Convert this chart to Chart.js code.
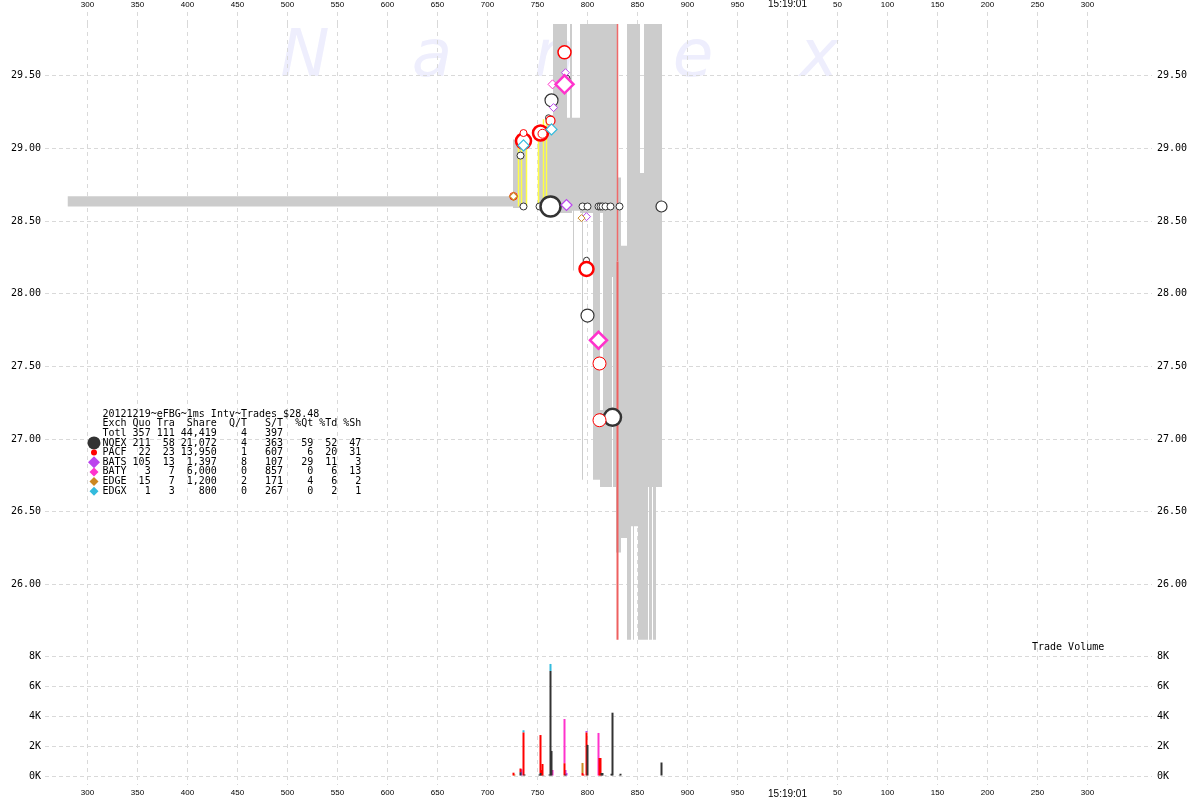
<!DOCTYPE html>
<html>
<head>
<meta charset="utf-8">
<script src="https://cdn.jsdelivr.net/npm/chart.js@4.4.1/dist/chart.umd.min.js"></script>
<style>
html,body{margin:0;padding:0;background:#ffffff;}
#wrap{position:relative;width:1200px;height:800px;}
canvas{display:block;}
</style>
</head>
<body>
<div id="wrap"><canvas id="chart" width="1200" height="800"></canvas></div>
<script>
// ---------- tick values / labels ----------
const xTickValues = [300,350,400,450,500,550,600,650,700,750,800,850,900,950,1000,1050,1100,1150,1200,1250,1300];
const xTickLabels = ['300','350','400','450','500','550','600','650','700','750','800','850','900','950','15:19:01','50','100','150','200','250','300'];
const priceTicks = [26.00,26.50,27.00,27.50,28.00,28.50,29.00,29.50];
const volTicks = [0,2000,4000,6000,8000];
const volTickLabels = ['0K','2K','4K','6K','8K'];

// ---------- quote spread before the burst ----------
const bandMs = [280, 726];
const bandHi = [28.67, 28.67];
const bandLo = 28.60;

// ---------- 1 ms quote ranges (NBBO spread) ----------
const quoteMs = [
  726,727,728,729,730,
  731,732,733,734,735,736,737,738,739,
  751,752,753,754,755,756,757,758,759,
  760,761,762,763,764,765,
  766,767,768,769,770,771,772,773,774,775,776,777,778,779,
  780,781,782,783,784,
  785,786,787,788,789,790,791,792,
  793,794,795,796,797,798,799,800,801,802,803,804,805,
  806,807,808,809,810,811,812,
  813,814,815,
  816,817,818,819,820,821,822,823,824,
  825,826,827,828,829,
  831,832,833,
  834,835,836,837,838,839,
  840,841,842,843,
  844,845,846,847,848,849,850,
  851,852,
  853,854,855,856,
  857,858,859,860,
  861,862,863,864,865,866,867,868,
  869,870,871,872,873,874
];
const quoteLo = [
  28.59,28.59,28.59,28.59,28.59,
  28.59,28.59,28.59,28.59,28.59,28.59,28.59,28.59,28.59,
  28.59,28.59,28.59,28.59,28.59,28.59,28.59,28.59,28.59,
  28.58,28.58,28.58,28.58,28.58,28.58,
  28.555,28.555,28.555,28.555,28.555,28.555,28.555,28.555,28.555,28.555,28.555,28.555,28.555,28.555,
  28.555,28.555,28.555,28.555,28.555,
  28.57,28.16,28.57,28.57,28.57,28.57,28.57,28.57,
  28.555,28.555,26.72,28.555,28.555,28.555,28.555,28.555,28.555,28.555,28.555,28.555,28.555,
  26.72,26.72,26.72,26.72,26.72,26.72,26.72,
  28.555,28.555,28.555,
  26.67,26.67,26.67,26.67,26.67,26.67,26.67,26.67,26.67,
  28.115,26.67,26.67,26.67,26.22,
  26.22,26.22,26.22,
  26.32,26.32,26.32,26.32,26.32,26.32,
  25.62,25.62,25.62,25.62,
  26.40,26.40,25.62,26.40,26.40,26.40,26.40,
  25.62,25.62,
  25.62,25.62,25.62,25.62,
  25.62,25.62,25.62,25.62,
  26.67,25.62,25.62,25.62,26.67,25.62,25.62,25.62,
  26.67,26.67,26.67,26.67,26.67,26.67
];
const quoteHi = [
  29.06,29.06,29.06,29.06,29.06,
  29.09,29.09,29.09,29.09,29.09,29.09,29.09,29.09,29.09,
  29.07,29.07,29.07,29.07,29.07,29.07,29.07,29.07,29.07,
  29.23,29.23,29.23,29.23,29.23,29.23,
  29.86,29.86,29.86,29.86,29.86,29.86,29.86,29.86,29.86,29.86,29.86,29.86,29.86,29.86,
  29.21,29.21,29.21,29.86,29.86,
  29.21,29.21,29.21,29.21,29.21,29.21,29.21,29.21,
  29.86,29.86,29.86,29.86,29.86,29.86,29.86,29.86,29.86,29.86,29.86,29.86,29.86,
  29.86,29.86,29.86,29.86,29.86,29.86,29.86,
  29.86,29.86,29.86,
  29.86,29.86,29.86,29.86,29.86,29.86,29.86,29.86,29.86,
  29.86,29.86,29.86,29.86,29.86,
  28.80,28.80,28.80,
  28.33,28.33,28.33,28.33,28.33,28.33,
  29.86,29.86,29.86,29.86,
  29.86,29.86,29.86,29.86,29.86,29.86,29.86,
  29.86,29.86,
  28.83,28.83,28.83,28.83,
  29.86,29.86,29.86,29.86,
  29.86,29.86,29.86,29.86,29.86,29.86,29.86,29.86,
  29.86,29.86,29.86,29.86,29.86,29.86
];
// second quote range inside the same ms
const quote2Ms = [813,814,815];
const quote2Lo = [26.67,26.67,26.67];
const quote2Hi = [27.20,27.20,27.20];

// PACF quote that drops through the book
const pacfQuoteMs = [830];
const pacfQuoteUpperLo = [28.22];
const pacfQuoteUpperHi = [29.86];
const pacfQuoteLowerLo = [25.62];
const pacfQuoteLowerHi = [28.22];

// crossed / locked markers (yellow)
const lockMs = [731,734,739,751,756,759];
const lockLo = [28.60,28.60,28.60,28.60,28.60,28.60];
const lockHi = [29.02,29.02,29.02,29.07,29.20,29.20];

// ---------- trades (ms, price) ----------
const nqexTradeMs = [733,736,752,761,763,764,779,795,799,800,800,800,811,813,813,815,818,823,825,832,874];
const nqexTradePx = [28.95,28.60,28.60,29.21,28.60,29.33,29.48,28.60,28.23,28.60,28.15,27.85,28.60,28.60,27.15,28.60,28.60,28.60,27.15,28.60,28.60];
const pacfTradeMs = [726,736,736,753,755,763,777,799,812,812];
const pacfTradePx = [28.67,29.05,29.105,29.105,29.10,29.19,29.66,28.17,27.52,27.13];
const batsTradeMs = [766,778,779,799];
const batsTradePx = [29.28,29.52,28.61,28.53];
const batyTradeMs = [765,777,811];
const batyTradePx = [29.44,29.44,27.68];
const edgeTradeMs = [726,794];
const edgeTradePx = [28.67,28.52];
const edgxTradeMs = [736,764];
const edgxTradePx = [29.02,29.13];

// ---------- trade volume (shares per ms) ----------
const nqexVolMs = [733,737,752,753,756,762,763,764,778,800,814,815,818,824,825,832,833,874];
const nqexVol   = [250,100,100,200,50,100,7000,1670,100,2070,200,200,50,150,4220,50,150,900];
const pacfVolMs = [726,733,736,753,754,755,777,795,796,799,812,813];
const pacfVol   = [220,250,2900,2530,400,800,850,200,100,2900,1200,1200];
const batsVolMs = [734,778,779,799];
const batsVol   = [450,300,200,100];
const batyVolMs = [765,777,811];
const batyVol   = [400,2950,2870];
const edgeVolMs = [727,795];
const edgeVol   = [100,670];
const edgxVolMs = [736,763];
const edgxVol   = [150,470];

// ---------- summary table ----------
const tableTitle = '20121219~eFBG~1ms Intv~Trades $28.48';
const tableHead  = ['Exch','Quo','Tra','Share','Q/T','S/T','%Qt','%Td','%Sh'];
const legendExch  = ['Totl','NQEX','PACF','BATS','BATY','EDGE','EDGX'];
const legendQuo   = [357,211,22,105,3,15,1];
const legendTra   = [111,58,23,13,7,7,3];
const legendShare = ['44,419','21,072','13,950','1,397','6,000','1,200','800'];
const legendQT    = [4,4,1,8,0,2,0];
const legendST    = [397,363,607,107,857,171,267];
const legendPctQt = ['',59,6,29,0,4,0];
const legendPctTd = ['',52,20,11,6,6,2];
const legendPctSh = ['',47,31,3,13,2,1];

// ---------- styles ----------
const C = { nqex:'#333333', pacf:'#ff0000', bats:'#bb44ee', baty:'#ff33cc', edge:'#cc8822', edgx:'#33bbdd', grey:'#cccccc', lock:'#ffff44' };
const nqexR  = [3.5,3.5,3.5,3,10,6.5,3.5,3.5,3,3.5,3,6.5,3.5,3.5,3.5,3.5,3.5,3.5,8.5,3.5,5.5];
const nqexBW = [1,1,1,1,2.5,1.2,1,1,1,1,1,1.2,1,1,1,1,1,1,2.5,1,1.2];
const pacfR  = [3.8,7.5,3.5,7.5,4.5,4.5,6.5,7,6.5,6.5];
const pacfBW = [1,2.5,1,2.5,1,1.2,1.5,2.5,1,1];
const batsR  = [4,4,5.5,4];
const batsBW = [1,1,1.2,1];
const batyR  = [4.5,9,8.5];
const batyBW = [1,2.5,2.5];
const edgeR  = [4,3.5];
const edgeBW = [1.2,1];
const edgxR  = [5.5,5.5];
const edgxBW = [1.2,1.2];

// layout: chart area 24..776; price panel 24..650 (626px), volume panel 650..776 (126px)
const X_MIN = 257.5, X_MAX = 1364.5;
const P_MAX = 29.855, P_MIN = 29.855 - 626/145.4;
const V_MAX = 126/15*1000;
const gridColor = '#d9d9d9';
const monoFont = {family:'DejaVu Sans Mono', size:10};

const pts = (ms, vals) => ms.map((m,i) => ({x:m, y:vals[i]}));
const rng = (ms, lo, hi) => ms.map((m,i) => ({x:m, y:[lo[i], hi[i]]}));
const fixTicks = vals => (s => { s.ticks = vals.map(v => ({value:v})); });

function floatBar(label, data, color, thick, order){
  return {type:'bar', label, data, yAxisID:'yP', backgroundColor:color, borderWidth:0,
          barThickness:thick, grouped:false, inflateAmount:0, order};
}
function volBar(label, ms, vals, color, order){
  return {type:'bar', label, data:pts(ms, vals), yAxisID:'yV', backgroundColor:color, borderWidth:0,
          barThickness:2, grouped:false, inflateAmount:0, order};
}
function trades(label, ms, px, color, style, r, bw, order){
  return {type:'scatter', label, data:pts(ms, px), yAxisID:'yP', pointStyle:style,
          pointRadius:r, pointBorderWidth:bw, pointBorderColor:color, pointBackgroundColor:'#ffffff', order};
}

const xLabel = v => { const i = xTickValues.indexOf(v); return i < 0 ? '' : xTickLabels[i]; };
const xFont = ctx => (ctx.tick && ctx.tick.value === 1000) ? {family:'Liberation Sans', size:10} : {family:'Liberation Sans', size:8};
const volLabel = v => { const i = volTicks.indexOf(v); return i < 0 ? '' : volTickLabels[i]; };

const overlay = {
  id:'overlay',
  beforeDraw(chart){
    const c = chart.ctx;
    c.save();
    c.fillStyle = '#ffffff'; c.fillRect(0,0,chart.width,chart.height);
    c.font = 'italic 66px "DejaVu Sans"';
    c.fillStyle = '#eeeefd'; c.textAlign = 'center'; c.textBaseline = 'alphabetic';
    const letters = ['N','a','n','e','x'], lx = [305,432,555,693,819];
    letters.forEach((ch,i) => c.fillText(ch, lx[i], 76));
    c.restore();
  },
  afterDraw(chart){
    const c = chart.ctx;
    c.save();
    c.font = '10px "DejaVu Sans Mono"'; c.fillStyle = '#000000';
    c.textAlign = 'left'; c.textBaseline = 'middle';
    const x0 = 102.5, y0 = 414, lh = 9.65;
    const row = a => String(a[0]).padEnd(4) + ' ' + String(a[1]).padStart(3) + ' ' + String(a[2]).padStart(3) + ' ' +
      String(a[3]).padStart(6) + String(a[4]).padStart(5) + String(a[5]).padStart(6) +
      String(a[6]).padStart(5) + String(a[7]).padStart(4) + String(a[8]).padStart(4);
    c.fillText(tableTitle, x0, y0);
    c.fillText(row(tableHead), x0, y0 + lh);
    legendExch.forEach((e,i) => {
      const line = row([e, legendQuo[i], legendTra[i], legendShare[i], legendQT[i], legendST[i], legendPctQt[i], legendPctTd[i], legendPctSh[i]]);
      c.fillText(line.replace(/\s+$/,''), x0, y0 + lh*(i+2));
    });
    // legend glyphs
    const gx = 94;
    const dot = (y, r, col) => { c.beginPath(); c.arc(gx, y, r, 0, Math.PI*2); c.fillStyle = col; c.fill(); };
    const dia = (y, r, col) => { c.beginPath(); c.moveTo(gx, y-r); c.lineTo(gx+r, y); c.lineTo(gx, y+r); c.lineTo(gx-r, y); c.closePath(); c.fillStyle = col; c.fill(); };
    dot(y0 + lh*3, 6.5, C.nqex);
    dot(y0 + lh*4, 3, C.pacf);
    dia(y0 + lh*5, 6, C.bats);
    dia(y0 + lh*6, 4.5, C.baty);
    dia(y0 + lh*7, 4.5, C.edge);
    dia(y0 + lh*8, 4.5, C.edgx);
    c.fillStyle = '#000000';
    c.fillText('Trade Volume', 1032, 647);
    c.restore();
  }
};

new Chart(document.getElementById('chart'), {
  type:'bar',
  data:{ datasets:[
    {type:'line', label:'spread', data:pts(bandMs, bandHi), yAxisID:'yP', borderWidth:0, pointRadius:0,
     backgroundColor:C.grey, fill:{value:bandLo}, order:22},
    floatBar('quotes', rng(quoteMs, quoteLo, quoteHi), C.grey, 1, 21),
    floatBar('quotes2', rng(quote2Ms, quote2Lo, quote2Hi), C.grey, 1, 21),
    floatBar('lock', rng(lockMs, lockLo, lockHi), C.lock, 1.5, 19),
    floatBar('pacfQ1', rng(pacfQuoteMs, pacfQuoteUpperLo, pacfQuoteUpperHi), '#f06a6a', 1.5, 18),
    floatBar('pacfQ2', rng(pacfQuoteMs, pacfQuoteLowerLo, pacfQuoteLowerHi), '#ee6060', 2, 18),
    volBar('NQEX vol', nqexVolMs, nqexVol, C.nqex, 10),
    volBar('PACF vol', pacfVolMs, pacfVol, C.pacf, 11),
    volBar('BATS vol', batsVolMs, batsVol, C.bats, 12),
    volBar('BATY vol', batyVolMs, batyVol, C.baty, 13),
    volBar('EDGE vol', edgeVolMs, edgeVol, C.edge, 14),
    volBar('EDGX vol', edgxVolMs, edgxVol, C.edgx, 15),
    trades('NQEX', nqexTradeMs, nqexTradePx, C.nqex, 'circle', nqexR, nqexBW, 6),
    trades('PACF', pacfTradeMs, pacfTradePx, C.pacf, 'circle', pacfR, pacfBW, 5),
    trades('BATS', batsTradeMs, batsTradePx, C.bats, 'rectRot', batsR, batsBW, 4),
    trades('BATY', batyTradeMs, batyTradePx, C.baty, 'rectRot', batyR, batyBW, 3),
    trades('EDGE', edgeTradeMs, edgeTradePx, C.edge, 'rectRot', edgeR, edgeBW, 2),
    trades('EDGX', edgxTradeMs, edgxTradePx, C.edgx, 'rectRot', edgxR, edgxBW, 1)
  ]},
  options:{
    responsive:false, animation:false, events:[],
    layout:{padding:0},
    plugins:{legend:{display:false}, tooltip:{enabled:false}},
    scales:{
      xT:{type:'linear', position:'top', min:X_MIN, max:X_MAX, offset:false,
          afterBuildTicks:fixTicks(xTickValues), afterFit:s => { s.height = 24; },
          grid:{offset:false, color:gridColor, lineWidth:1, drawTicks:true, tickLength:12, tickColor:gridColor, tickBorderDash:[4,4], borderDash:[4,4]},
          border:{display:false, dash:[4,4]},
          ticks:{autoSkip:false, maxRotation:0, minRotation:0, padding:2, color:'#000', font:xFont, callback:xLabel}},
      x:{type:'linear', position:'bottom', min:X_MIN, max:X_MAX, offset:false,
          afterBuildTicks:fixTicks(xTickValues), afterFit:s => { s.height = 24; },
          grid:{offset:false, drawOnChartArea:false, color:gridColor, drawTicks:true, tickLength:9, tickColor:gridColor, tickBorderDash:[4,4]},
          border:{display:false, dash:[4,4]},
          ticks:{autoSkip:false, maxRotation:0, minRotation:0, padding:3, color:'#000', font:xFont, callback:xLabel}},
      yP:{type:'linear', position:'left', stack:'L', stackWeight:626, weight:1,
          min:P_MIN, max:P_MAX, beginAtZero:false,
          afterBuildTicks:fixTicks(priceTicks), afterFit:s => { s.width = 45; },
          grid:{color:gridColor, drawTicks:false, borderDash:[4,3]}, border:{display:false, dash:[4,3]},
          ticks:{padding:4, color:'#000', font:monoFont, callback:v => v.toFixed(2)}},
      yV:{type:'linear', position:'left', stack:'L', stackWeight:126, weight:0,
          min:0, max:V_MAX, stacked:true, beginAtZero:false,
          afterBuildTicks:fixTicks(volTicks), afterFit:s => { s.width = 45; },
          grid:{color:gridColor, drawTicks:false, borderDash:[4,3]}, border:{display:false, dash:[4,3]},
          ticks:{padding:4, color:'#000', font:monoFont, callback:volLabel}},
      yPR:{type:'linear', position:'right', stack:'R', stackWeight:626, weight:0,
          min:P_MIN, max:P_MAX, beginAtZero:false,
          afterBuildTicks:fixTicks(priceTicks), afterFit:s => { s.width = 48; },
          grid:{display:false, drawTicks:false}, border:{display:false},
          ticks:{padding:5, color:'#000', font:monoFont, callback:v => v.toFixed(2)}},
      yVR:{type:'linear', position:'right', stack:'R', stackWeight:126, weight:1,
          min:0, max:V_MAX, beginAtZero:false,
          afterBuildTicks:fixTicks(volTicks), afterFit:s => { s.width = 48; },
          grid:{display:false, drawTicks:false}, border:{display:false},
          ticks:{padding:5, color:'#000', font:monoFont, callback:volLabel}}
    }
  },
  plugins:[overlay]
});
</script>
</body>
</html>
